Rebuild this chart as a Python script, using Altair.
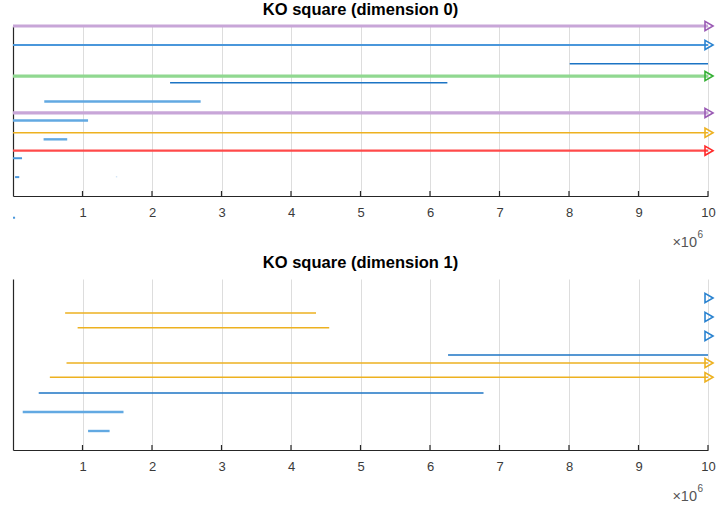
import altair as alt
import pandas as pd

# Filtration window (in units of 1e6); bars still alive at the end get an arrow
X_MAX = 10
TICKS = [1, 2, 3, 4, 5, 6, 7, 8, 9, 10]

# ---- dimension 0 barcode ----
d0_group = ["violet", "blue", "blue-dark", "green", "blue-dark", "blue-light",
            "violet", "blue-light", "amber", "blue-light", "red", "blue",
            "blue", "faint", "blue"]
d0_level = [9.0, 8.0, 7.0, 6.35, 6.0, 5.0,
            4.4, 4.0, 3.35, 3.0, 2.4, 2.0,
            1.0, 1.02, -1.15]
d0_birth = [0.0, 0.0, 8.01, 0.0, 2.26, 0.45,
            0.0, 0.0, 0.0, 0.44, 0.0, 0.0,
            0.03, 1.48, 0.0]
d0_death = [None, None, 10.0, None, 6.25, 2.70,
            None, 1.08, None, 0.78, None, 0.13,
            0.09, 1.50, 0.03]

# ---- dimension 1 barcode ----
d1_group = ["blue", "blue", "blue", "amber", "amber", "blue-dark",
            "amber", "amber", "blue-dark", "blue-light", "blue-light"]
d1_level = [8.0, 7.0, 6.0, 7.21, 6.44, 5.0,
            4.58, 3.83, 3.0, 2.0, 1.0]
d1_birth = [10.0, 10.0, 10.0, 0.75, 0.93, 6.26,
            0.77, 0.53, 0.37, 0.14, 1.08]
d1_death = [None, None, None, 4.36, 4.55, 10.0,
            None, None, 6.77, 1.59, 1.39]

# line colour, arrow colour, line width for each kind of bar
STYLE = {
    "violet":     ("#C8A6D8", "#9A5AB4", 3.2),
    "blue":       ("#4A97DB", "#2A83D0", 2.0),
    "blue-dark":  ("#1C74C4", "#1C74C4", 1.5),
    "blue-light": ("#62A9E2", "#3F91D9", 2.4),
    "green":      ("#90D890", "#35B035", 3.2),
    "amber":      ("#EDB120", "#EDB120", 1.5),
    "red":        ("#FF4A4A", "#FF2A2A", 2.2),
    "faint":      ("#D4E6F6", "#D4E6F6", 1.5),
}
KINDS = list(STYLE)

FONT = "Liberation Sans"
AXIS_INK = "#262626"
WIDTH = 695


def bars(group, level, birth, death):
    return pd.DataFrame({
        "group": group,
        "level": level,
        "birth": birth,
        "end": [X_MAX if d is None else d for d in death],
        "alive": [d is None for d in death],
    })


def panel(df, title, height, title_offset):
    xs = alt.Scale(domain=[0, X_MAX], nice=False, zero=True)
    ys = alt.Scale(domain=[0, 9], nice=False, zero=True)
    color = alt.Color("group:N", legend=None,
                      scale=alt.Scale(domain=KINDS, range=[STYLE[k][0] for k in KINDS]))
    width = alt.StrokeWidth("group:N", legend=None,
                            scale=alt.Scale(type="ordinal", domain=KINDS,
                                            range=[STYLE[k][2] for k in KINDS]))
    arrow_color = alt.Stroke("group:N", legend=None,
                             scale=alt.Scale(domain=KINDS, range=[STYLE[k][1] for k in KINDS]))

    x_axis = alt.Axis(values=TICKS, format="d", grid=True, gridColor="#DDDDDD", gridWidth=1,
                      ticks=False, domain=True, domainColor=AXIS_INK, domainWidth=1.2,
                      labelFont=FONT, labelFontSize=13, labelColor="#3a3a3a",
                      labelFlush=False, labelPadding=10, title=None)
    y_axis = alt.Axis(ticks=False, labels=False, grid=False, domain=True,
                      domainColor=AXIS_INK, domainWidth=1.2, title=None)

    # short inward-pointing tick marks along the x axis
    ticks = alt.Chart(pd.DataFrame({"t": TICKS})).mark_rule(
        color=AXIS_INK, strokeWidth=1.2
    ).encode(
        x=alt.X("t:Q", scale=xs, axis=x_axis),
        y=alt.value(height),
        y2=alt.value(height - 5),
    )

    lines = alt.Chart(df).mark_rule(strokeCap="butt").encode(
        x=alt.X("birth:Q", scale=xs, axis=x_axis),
        x2="end:Q",
        y=alt.Y("level:Q", scale=ys, axis=y_axis),
        color=color,
        strokeWidth=width,
    )

    arrows = alt.Chart(df[df["alive"]]).mark_point(
        shape="triangle-right", filled=False, size=85, strokeWidth=1.6, opacity=1, xOffset=1
    ).encode(
        x=alt.X("end:Q", scale=xs, axis=x_axis),
        y=alt.Y("level:Q", scale=ys, axis=y_axis),
        stroke=arrow_color,
    )

    mult = alt.Chart(pd.DataFrame({"t": ["×10"]})).mark_text(
        font=FONT, fontSize=14.5, color="#555555", align="right", baseline="middle"
    ).encode(text="t:N", x=alt.value(WIDTH - 11), y=alt.value(height + 47))

    power = alt.Chart(pd.DataFrame({"t": ["6"]})).mark_text(
        font=FONT, fontSize=10, color="#555555", align="left", baseline="middle"
    ).encode(text="t:N", x=alt.value(WIDTH - 10.5), y=alt.value(height + 39))

    return alt.layer(ticks, lines, arrows, mult, power).properties(
        width=WIDTH, height=height,
        title=alt.TitleParams(title, font=FONT, fontSize=16.5, fontWeight="bold",
                              color="black", anchor="middle", offset=title_offset),
    )


top = panel(bars(d0_group, d0_level, d0_birth, d0_death), "KO square (dimension 0)", 170, 0)
bottom = panel(bars(d1_group, d1_level, d1_birth, d1_death), "KO square (dimension 1)", 171, 7.5)

chart = alt.vconcat(top, bottom, spacing=5).properties(
    padding={"left": 11, "top": 1, "right": 0, "bottom": 0},
    background="white",
).configure_view(stroke=None)

chart.save("out.html", embed_options={"renderer": "svg", "actions": False})
